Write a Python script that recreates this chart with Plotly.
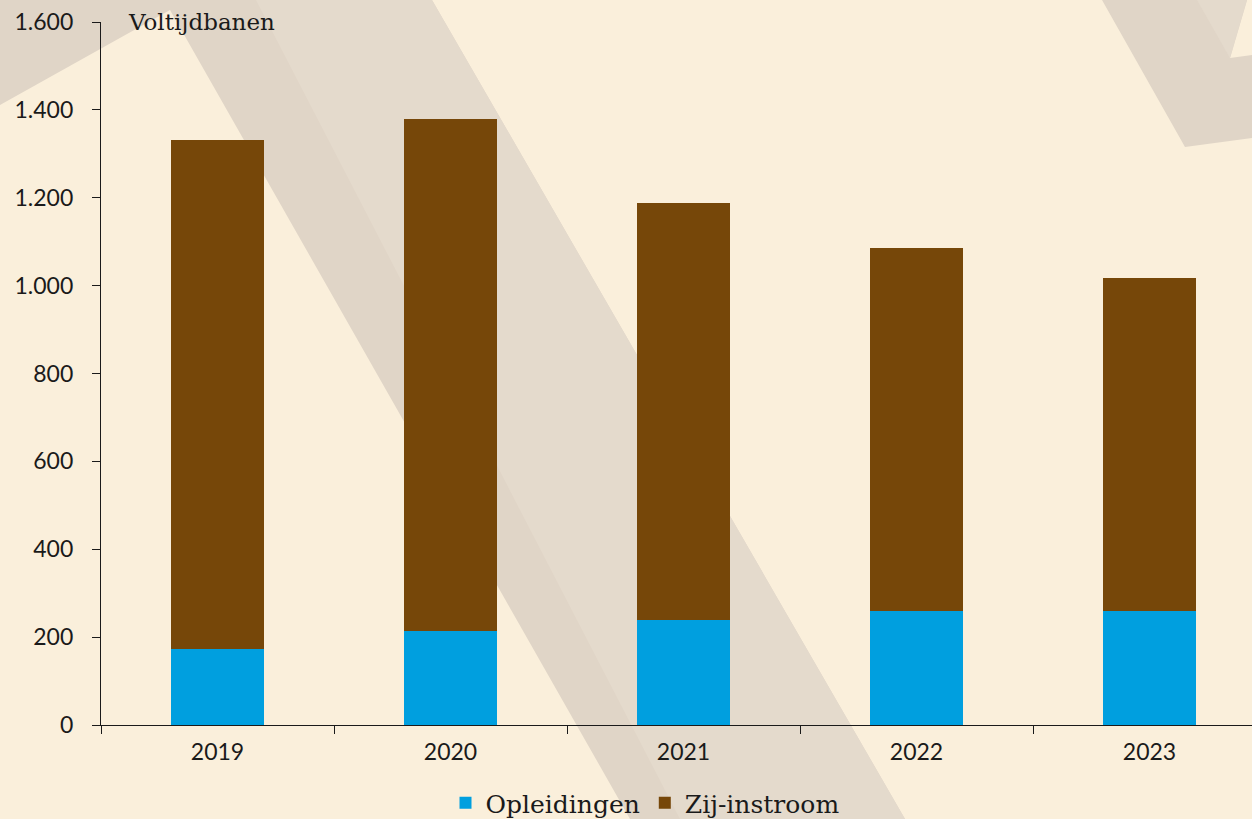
import plotly.graph_objects as go

# ---- data ----
years = ["2019", "2020", "2021", "2022", "2023"]
opleidingen = [173, 214, 239, 259, 259]
zij_instroom = [1158, 1165, 949, 827, 758]
y_ticks = [0, 200, 400, 600, 800, 1000, 1200, 1400, 1600]

BG = "#FAEFDB"
BLUE = "#009FDF"
BROWN = "#764709"

W, H = 1252, 819
L, R, T, B = 101, 0, 22, 94
PW, PH = W - L - R, H - T - B


def px(x, y):
    return (x - L) / PW, (H - B - y) / PH


def path(points):
    pts = [px(x, y) for x, y in points]
    s = "M " + " L ".join(f"{a:.5f},{b:.5f}" for a, b in pts) + " Z"
    return s


fig = go.Figure()
fig.add_trace(go.Bar(x=years, y=opleidingen, name="Opleidingen",
                     marker=dict(color=BLUE, line=dict(width=0)), width=0.4))
fig.add_trace(go.Bar(x=years, y=zij_instroom, name="Zij-instroom",
                     marker=dict(color=BROWN, line=dict(width=0)), width=0.4))

shapes = []
dark = "#E0D5C7"
light = "#E4DACC"
for pts, col in [
    ([(0, 0), (432, 0), (905, 819), (630, 819), (170, 10), (0, 105)], dark),
    ([(256, 0), (432, 0), (905, 819), (680, 819)], light),
    ([(1102, 0), (1247, 0), (1230, 58), (1252, 55), (1252, 138), (1185, 147)], dark),
    ([(1197, 0), (1247, 0), (1230, 58)], light),
]:
    shapes.append(dict(type="path", path=path(pts), xref="paper", yref="paper",
                       fillcolor=col, line=dict(width=0), layer="below"))

fig.update_layout(
    width=W, height=H,
    margin=dict(l=L, r=R, t=T, b=B),
    paper_bgcolor=BG, plot_bgcolor="rgba(0,0,0,0)",
    barmode="stack", bargap=0.6,
    separators=",.",
    shapes=shapes,
    font=dict(family="Lato", color="#1a1a1a"),
    showlegend=True,
    legend=dict(orientation="h", x=(645 - L) / PW, xanchor="center",
                yref="container", y=1 - 803 / H, yanchor="middle",
                font=dict(family="DejaVu Serif", size=25, color="#1a1a1a"),
                bgcolor="rgba(0,0,0,0)", traceorder="normal"),
    xaxis=dict(type="category", range=[-0.5, -0.5 + PW / 233.0],
               tickson="boundaries", ticks="outside", ticklen=8, tickwidth=1.3,
               tickcolor="#1a1a1a", showline=True, linecolor="#1a1a1a", linewidth=1.3,
               showgrid=False, tickfont=dict(family="Lato", size=23, color="#1a1a1a"),
               ticklabelstandoff=6),
    yaxis=dict(range=[0, 1600], tickvals=y_ticks, ticks="outside", ticklen=8,
               tickwidth=1.3, tickcolor="#1a1a1a", showline=True, linecolor="#1a1a1a",
               linewidth=1.3, showgrid=False, zeroline=False,
               tickformat=",d",
               tickfont=dict(family="Lato", size=23, color="#1a1a1a"),
               ticklabelstandoff=14),
    annotations=[dict(text="Voltijdbanen", xref="paper", yref="y",
                      x=(126 - L) / PW, y=1600, xanchor="left", yanchor="middle",
                      showarrow=False,
                      font=dict(family="DejaVu Serif", size=23, color="#1a1a1a"))],
)

fig.write_html("out.html", config={"displayModeBar": False},
               post_script="document.body.style.margin='0';document.body.style.padding='0';document.body.style.overflow='hidden';")
